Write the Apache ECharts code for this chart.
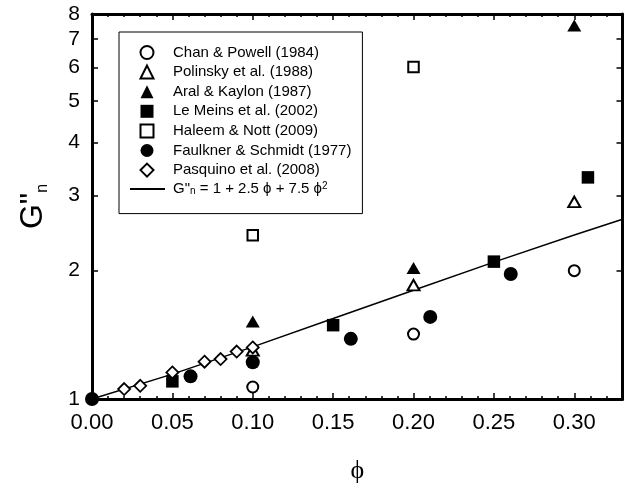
<!DOCTYPE html>
<html><head><meta charset="utf-8">
<script src="https://cdn.jsdelivr.net/npm/echarts@6/dist/echarts.min.js"></script>
<style>html,body{margin:0;padding:0;background:#fff}#c{width:625px;height:488px}</style>
</head><body><div id="c"></div>
<script>
// ---- data ----
const seriesNames = ['Chan & Powell (1984)', 'Polinsky et al. (1988)', 'Aral & Kaylon (1987)', 'Le Meins et al. (2002)', 'Haleem & Nott (2009)', 'Faulkner & Schmidt (1977)', 'Pasquino et al. (2008)'];
const fitName = 'fit';
const chanPowell = [[0.10, 1.067], [0.20, 1.42], [0.30, 2.00]];
const polinsky = [[0.10, 1.30], [0.20, 1.85], [0.30, 2.90]];
const aralKaylon = [[0.10, 1.52], [0.20, 2.03], [0.30, 7.52]];
const leMeins = [[0.05, 1.10], [0.15, 1.49], [0.25, 2.10], [0.3085, 3.31]];
const haleemNott = [[0.10, 2.42], [0.20, 6.01]];
const faulknerSchmidt = [[0.00, 1.00], [0.0613, 1.13], [0.10, 1.22], [0.161, 1.384], [0.2104, 1.558], [0.2605, 1.965]];
const pasquino = [[0.02, 1.055], [0.03, 1.074], [0.05, 1.154], [0.07, 1.223], [0.08, 1.241], [0.09, 1.292], [0.10, 1.321]];
const fitLine = [[0.00, 1.00], [0.05, 1.144], [0.10, 1.325], [0.15, 1.544], [0.20, 1.80], [0.25, 2.094], [0.30, 2.425], [0.33, 2.64]];
const yTickValues = [1, 2, 3, 4, 5, 6, 7, 8];
const fitLabel = 'G"{sub|n} = 1 + 2.5 ϕ + 7.5 ϕ{sup|2}';

const FONT = 'Liberation Sans, Arial, sans-serif';
const BLACK = '#000';

function scatter(name, data, symbol, size, open, bw) {
  return {
    type: 'scatter', name: name, data: data, symbol: symbol, symbolSize: size,
    xAxisIndex: 0, yAxisIndex: 0, z: 3, clip: false,
    itemStyle: open ? { color: '#fff', borderColor: BLACK, borderWidth: bw || 2, opacity: 1 }
                    : { color: BLACK, borderWidth: 0, opacity: 1 },
    emphasis: { disabled: true }
  };
}

function xAx(pos, interval, major) {
  const a = {
    type: 'value', position: pos, min: 0, max: 0.33, interval: interval,
    axisLine: { show: major, onZero: false, lineStyle: { color: BLACK, width: 3 } },
    axisTick: { show: true, inside: true, length: major ? 6 : 3, lineStyle: { color: BLACK, width: 1.5 } },
    axisLabel: { show: false },
    splitLine: { show: false }
  };
  if (pos === 'bottom' && major) {
    a.axisLabel = { show: true, margin: 13, fontSize: 22, color: BLACK, fontFamily: FONT,
      formatter: v => v.toFixed(2), showMaxLabel: false };
    a.name = 'ϕ';
    a.nameLocation = 'middle';
    a.nameGap = 59;
    a.nameTextStyle = { fontFamily: 'Liberation Serif, Times New Roman, serif', fontSize: 26, color: BLACK };
  }
  return a;
}

function yAx(pos) {
  const a = {
    type: 'log', position: pos, min: 1, max: 8,
    axisLine: { show: true, onZero: false, lineStyle: { color: BLACK, width: 3 } },
    axisTick: { show: true, inside: true, length: 6, customValues: yTickValues, lineStyle: { color: BLACK, width: 1.5 } },
    axisLabel: { show: false },
    splitLine: { show: false },
    minorTick: { show: false }
  };
  if (pos === 'left') {
    a.axisLabel = { show: true, margin: 12, fontSize: 21, color: BLACK, fontFamily: FONT,
      customValues: yTickValues, formatter: v => String(Math.round(v)) };
    a.name = '{g|G"}{n|n}';
    a.nameLocation = 'middle';
    a.nameGap = 41;
    a.nameRotate = 90;
    a.nameTextStyle = { fontFamily: FONT, fontSize: 32, color: BLACK,
      rich: { g: { fontFamily: FONT, fontSize: 32, lineHeight: 36, color: BLACK },
              n: { fontFamily: FONT, fontSize: 16, lineHeight: 24, verticalAlign: 'bottom', color: BLACK } } };
  }
  return a;
}

const legendText = { fontFamily: FONT, fontSize: 15, color: BLACK, lineHeight: 15 };

const chart = echarts.init(document.getElementById('c'), null, { renderer: 'canvas' });
chart.setOption({
  backgroundColor: '#fff',
  animation: false,
  grid: { left: 92, right: 2.5, top: 14, bottom: 89, containLabel: false, outerBoundsMode: 'none' },
  xAxis: [xAx('bottom', 0.05, true), xAx('bottom', 0.01, false), xAx('top', 0.05, true), xAx('top', 0.01, false)],
  yAxis: [yAx('left'), yAx('right')],
  legend: [
    {
      orient: 'vertical', left: 119, top: 32, itemWidth: 13, itemHeight: 13, itemGap: 4.6,
      padding: [13, 11, 36, 20.5], borderColor: BLACK, borderWidth: 1, backgroundColor: '#fff',
      selectedMode: false, z: 4,
      data: seriesNames,
      textStyle: Object.assign({ padding: [0, 0, 0, 14.5] }, legendText)
    },
    {
      orient: 'vertical', left: 129, top: 181.5, itemWidth: 35, itemHeight: 13,
      padding: 0, borderWidth: 0, selectedMode: false, z: 10,
      data: [{ name: fitName, itemStyle: { opacity: 0, color: 'rgba(0,0,0,0)', borderWidth: 0 } }],
      formatter: () => fitLabel,
      textStyle: Object.assign({ padding: [0, 0, 0, 3],
        rich: { sub: { fontFamily: FONT, fontSize: 10, lineHeight: 10, verticalAlign: 'bottom', color: BLACK },
                sup: { fontFamily: FONT, fontSize: 10, lineHeight: 10, verticalAlign: 'top', color: BLACK } } }, legendText)
    }
  ],
  series: [
    scatter(seriesNames[0], chanPowell, 'circle', 11, true),
    scatter(seriesNames[1], polinsky, 'triangle', [12, 10.5], true),
    scatter(seriesNames[2], aralKaylon, 'triangle', [14, 12], false),
    scatter(seriesNames[3], leMeins, 'rect', 12.5, false),
    scatter(seriesNames[4], haleemNott, 'rect', 10.5, true),
    scatter(seriesNames[5], faulknerSchmidt, 'circle', 14, false),
    scatter(seriesNames[6], pasquino, 'diamond', [12, 12], true, 1.8),
    { type: 'line', name: fitName, data: fitLine, xAxisIndex: 0, yAxisIndex: 0, z: 2,
      symbol: 'none', showSymbol: false, smooth: false,
      lineStyle: { color: BLACK, width: 1.5 }, itemStyle: { color: BLACK },
      emphasis: { disabled: true } }
  ]
});
</script></body></html>
